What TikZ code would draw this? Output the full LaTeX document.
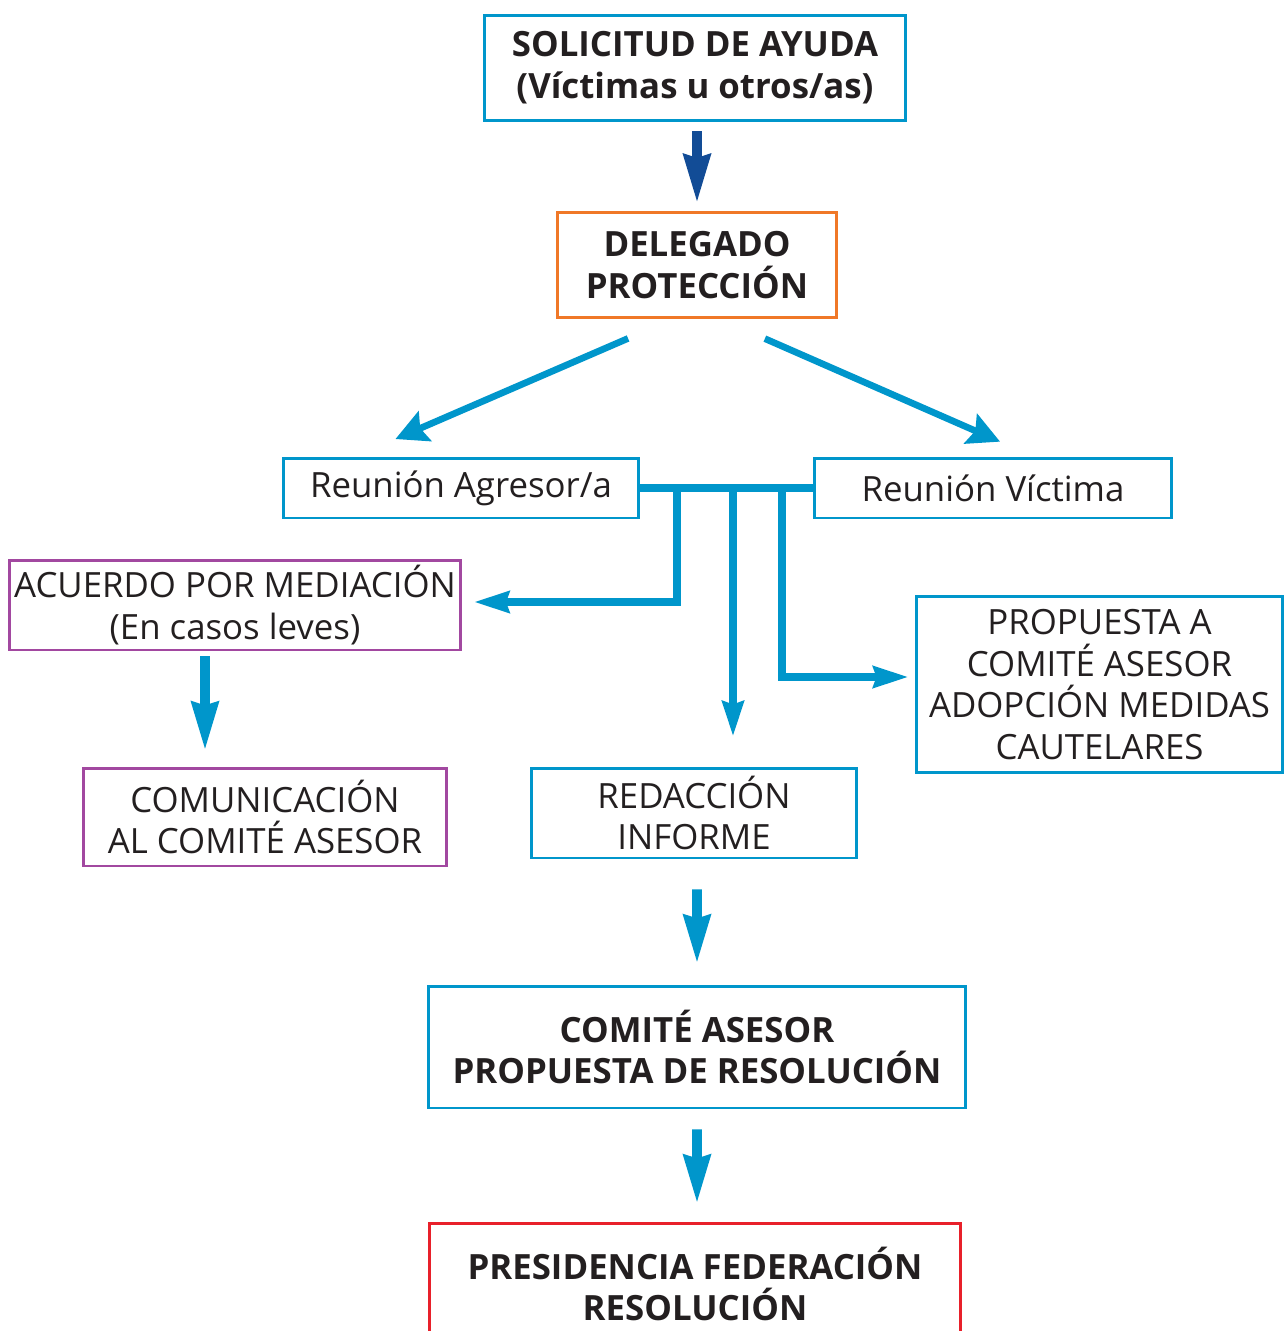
\documentclass[tikz,border=0pt]{standalone}
\usepackage{fontspec}
\setmainfont{Open Sans}
\usetikzlibrary{arrows.meta,calc}
\definecolor{azul}{RGB}{0,150,203}
\definecolor{azuloscuro}{RGB}{18,76,150}
\definecolor{naranja}{RGB}{240,120,40}
\definecolor{morado}{RGB}{162,72,160}
\definecolor{rojo}{RGB}{232,32,42}
\definecolor{texto}{RGB}{35,31,32}
\tikzset{
  caja/.style={draw=azul, line width=1.7pt, inner sep=0pt, align=center, text=texto,
    font=\fontsize{19.8}{23.8}\selectfont},
  negrita/.style={font=\fontsize{19.8}{23.8}\selectfont\bfseries},
  flecha/.style={azul, line width=5.6pt, -{Stealth[length=9.6mm, width=5.2mm, inset=0.6mm]}},
  diagonal/.style={azul, line width=3.8pt, -{Stealth[length=6.4mm, width=6.4mm, inset=1mm]}},
  rama/.style={azul, line width=4.4pt},
  ramaflecha/.style={rama, -{Stealth[length=7mm, width=4.2mm, inset=0.6mm]}},
}
\begin{document}
\begin{tikzpicture}[x=0.02cm, y=-0.02cm]
			%%%%% START %%%%%
			\useasboundingbox (0, 0) rectangle (1284, 1331);
			
			\node[caja, negrita, minimum width=8.44cm, minimum height=2.12cm] (solicitud) at (695, 68) {SOLICITUD DE AYUDA\\(Víctimas u otros/as)};
			\node[caja, negrita, draw=naranja, minimum width=5.6cm, minimum height=2.1cm] (delegado) at (697, 265) {DELEGADO\\PROTECCIÓN};
			
			\node[caja, minimum width=7.12cm, minimum height=1.2cm] (agresor) at (461, 488) {Reunión Agresor/a};
			\node[caja, minimum width=7.14cm, minimum height=1.2cm] (victima) at (993, 488) {Reunión Víctima};
			
			\node[caja, draw=morado, minimum width=9.02cm, minimum height=1.8cm] (acuerdo) at (235, 605) {ACUERDO POR MEDIACIÓN\\(En casos leves)};
			\node[caja, draw=morado, minimum width=7.28cm, minimum height=1.96cm] (comunicacion) at (265, 817) {COMUNICACIÓN\\AL COMITÉ ASESOR};
			\node[caja, minimum width=7.34cm, minimum height=3.54cm] (propuesta) at (1099.5, 684.5) {PROPUESTA A\\COMITÉ ASESOR\\ADOPCIÓN MEDIDAS\\CAUTELARES};
			\node[caja, minimum width=6.5cm, minimum height=1.8cm] (redaccion) at (694, 813) {REDACCIÓN\\INFORME};
			
			\node[caja, negrita, minimum width=10.74cm, minimum height=2.44cm] (comite) at (697, 1047) {COMITÉ ASESOR\\PROPUESTA DE RESOLUCIÓN};
			\node[caja, negrita, draw=rojo, minimum width=10.64cm, minimum height=2.44cm] (presidencia) at (695, 1284) {PRESIDENCIA FEDERACIÓN\\RESOLUCIÓN};
			
			% flechas verticales
			\draw[flecha, azuloscuro, shorten <=0.18cm, shorten >=0.16cm] ([xshift=0.04cm]solicitud.south) -- (delegado.north);
			\draw[flecha, shorten <=0.1cm, shorten >=0.32cm] ([xshift=-0.6cm]acuerdo.south) -- ([xshift=-0.6cm]acuerdo.south |- comunicacion.north);
			\draw[flecha, shorten <=0.6cm, shorten >=0.42cm] ([xshift=0.06cm]redaccion.south) -- (comite.north);
			\draw[flecha, shorten <=0.4cm, shorten >=0.36cm] (comite.south) -- ([xshift=0.04cm]presidencia.north);
			
			% flechas diagonales
			\draw[diagonal, shorten <=0.98cm, shorten >=0.88cm] ([xshift=-0.48cm]delegado.south) -- ([xshift=-2.12cm]agresor.north);
			\draw[diagonal, shorten <=0.98cm, shorten >=0.74cm] ([xshift=0.46cm]delegado.south) -- ([xshift=0.82cm]victima.north);
			
			% reuniones
			\draw[rama] (agresor.east) -- (victima.west);
			\coordinate (b1) at (677, 488);
			\coordinate (b2) at (733, 488);
			\coordinate (b3) at (782, 488);
			\draw[ramaflecha, shorten >=0.24cm] (b1) |- ([yshift=0.06cm]acuerdo.east);
			\draw[ramaflecha, shorten >=0.6cm] (b2) -- (b2 |- redaccion.north);
			\draw[ramaflecha, shorten >=0.12cm] (b3) |- ([yshift=0.15cm]propuesta.west);
			
			%%%%% END %%%%%
\end{tikzpicture}
\end{document}
